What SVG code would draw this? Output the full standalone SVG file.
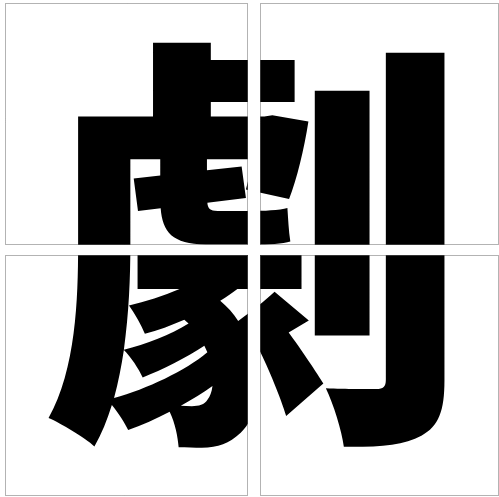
<svg xmlns="http://www.w3.org/2000/svg" width="499" height="497" viewBox="0 0 499 497">
<style>
.glyph{font-family:"Noto Sans CJK TC","Noto Sans CJK JP",sans-serif;font-weight:900;fill:#000}
.panel{fill:none;stroke:#666;stroke-width:1;stroke-dasharray:1 1}
.gap{fill:#fff}
</style>
<rect width="499" height="497" fill="#fff"/>
<text class="glyph" x="257" y="407" font-size="428" text-anchor="middle">劇</text>
<rect class="gap" x="248" y="0" width="12" height="497"/>
<rect class="gap" x="0" y="245" width="499" height="10"/>
<g id="panel-tl"><rect class="panel" x="5.5" y="3.5" width="242" height="241"/></g>
<g id="panel-tr"><rect class="panel" x="260.5" y="3.5" width="238" height="241"/></g>
<g id="panel-bl"><rect class="panel" x="5.5" y="255.5" width="242" height="240"/></g>
<g id="panel-br"><rect class="panel" x="260.5" y="255.5" width="238" height="240"/></g>
</svg>
